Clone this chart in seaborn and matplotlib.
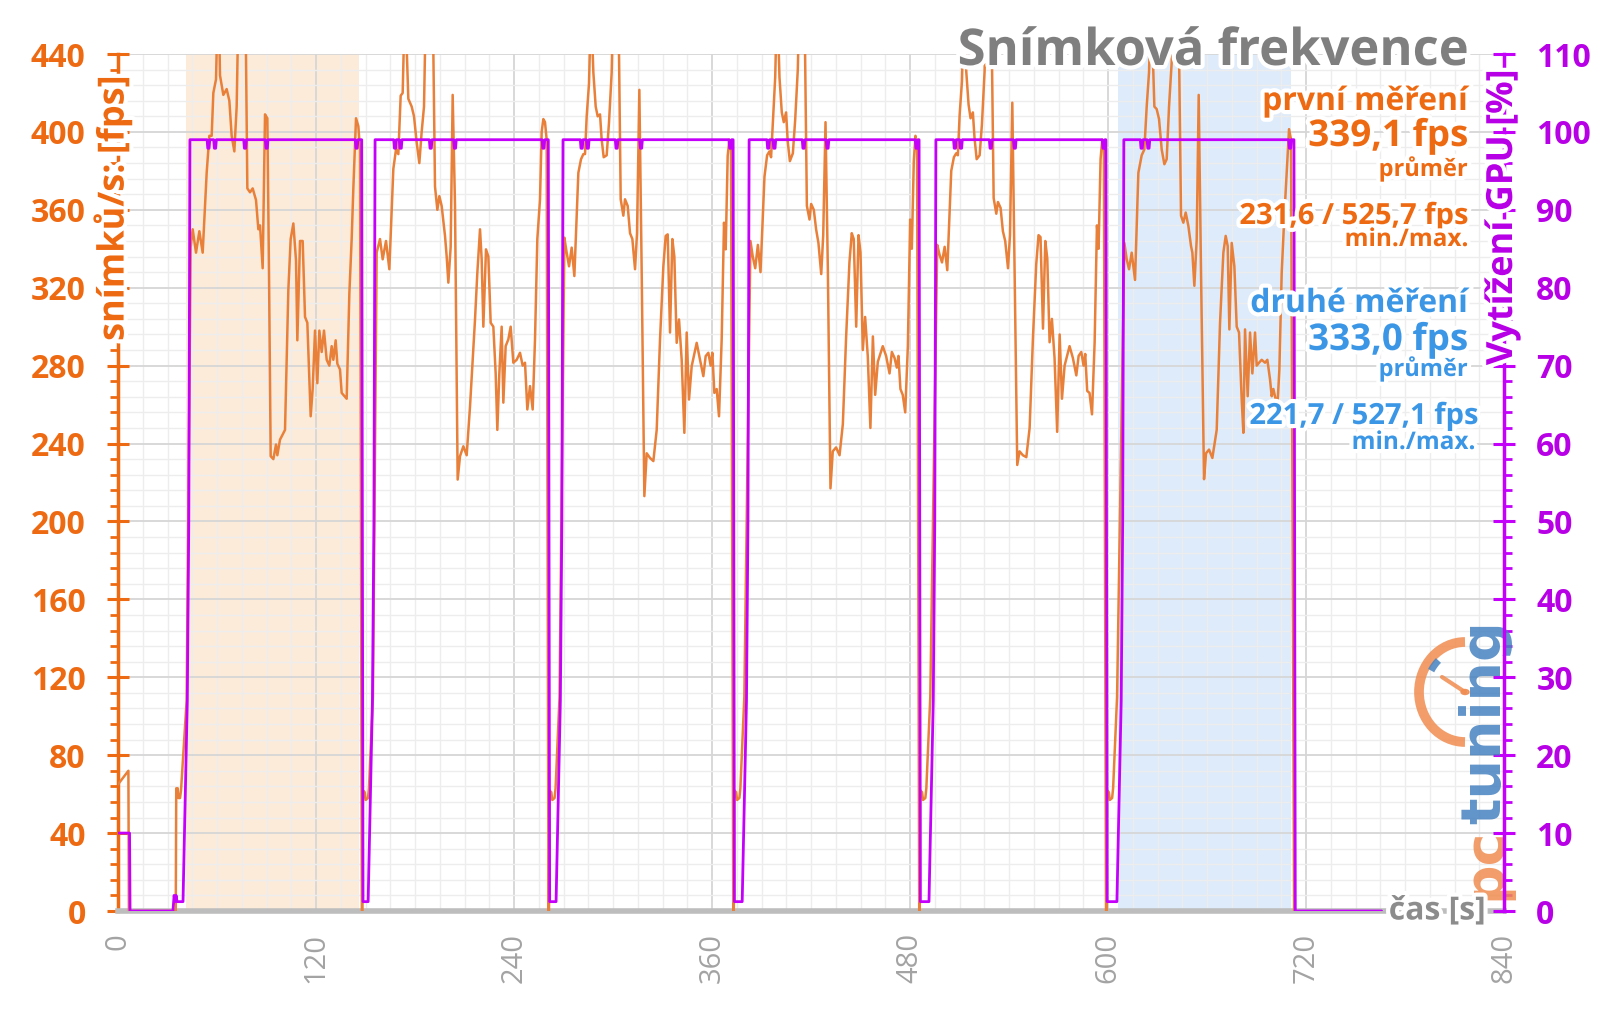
import matplotlib
matplotlib.use("Agg")
import matplotlib.pyplot as plt
import seaborn as sns
import pandas as pd
from matplotlib import patheffects as pe
from matplotlib.patches import Arc, Circle
from matplotlib.ticker import MultipleLocator

# ---------------------------------------------------------------- data
x_ticks = [0, 120, 240, 360, 480, 600, 720, 840]
fps_ticks = [0, 40, 80, 120, 160, 200, 240, 280, 320, 360, 400, 440]
gpu_ticks = [0, 10, 20, 30, 40, 50, 60, 70, 80, 90, 100, 110]

shade_first = (41.2, 146.2)
shade_second = (606.3, 710.8)

run_start = [43.6, 155.8, 269.7, 382.5, 495.7, 609.6]   # GPU reaches 99 %
run_end = [147.5, 260.6, 372.6, 485.3, 598.5, 712.5]     # fps falls to 0

run1_t = [44.05, 45.26, 47.28, 49.30, 51.32, 53.74, 55.36, 56.77, 57.78, 59.40,
          60.81, 61.82, 63.84, 65.86, 67.48, 68.89, 70.51, 71.92, 73.54, 75.56,
          77.2, 78.39, 80.0, 81.62, 83.64, 85.06, 86.07, 87.68, 89.10, 90.51,
          91.52, 92.53, 94.15, 95.76, 96.57, 98.19, 101.22, 103.24, 104.65, 106.27,
          107.88, 108.69, 110.31, 111.92, 113.34, 114.75, 116.77, 117.98, 119.40, 120.81,
          122.03, 123.44, 124.85, 126.47, 128.09, 129.50, 130.51, 131.92, 132.93, 134.55,
          135.56, 137.58, 138.59, 140.21, 141.62, 142.63, 144.25, 145.66, 146.67]
run1_fps = [341, 350, 338, 349, 338, 379, 398, 398, 420, 427,
            478, 429, 419, 422, 416, 398, 390, 413, 490, 525.7,
            470, 371, 369, 371, 365, 350, 352, 330, 409, 407,
            328, 233.5, 232, 239.5, 234, 242, 247, 319, 345, 353,
            334, 293, 344, 344, 305, 302, 254, 268, 298, 271,
            298, 287, 298, 283, 280, 290, 283, 293, 281, 278,
            266, 264, 263, 317, 345, 371, 407, 403, 391]

run2_t = [156.77, 158.79, 160.41, 162.43, 164.45, 166.87, 168.49, 169.90, 171.32, 172.53,
          173.94, 175.96, 177.98, 179.40, 181.01, 182.63, 184.04, 185.46, 186.67, 188.69,
          190.71, 192.12, 193.54, 194.75, 196.16, 198.19, 199.20, 200.21, 201.62, 202.83,
          204.25, 205.86, 207.28, 209.30, 211.32, 213.34, 216.37, 217.78, 219.40, 220.41,
          221.42, 223.03, 224.45, 225.86, 227.48, 228.89, 229.90, 231.11, 232.53, 233.54,
          234.95, 236.57, 237.98, 239.60, 241.62, 243.64, 245.26, 246.67, 248.08, 249.70,
          251.32, 252.73, 254.14, 255.76, 256.77, 257.78, 258.79, 259.80]
run2_fps = [338, 345, 334.6, 344, 329.5, 381, 391, 388.6, 418.6, 420,
            470, 417, 413, 408, 394.6, 384, 400, 413, 470, 515,
            470, 372, 360, 367, 362, 346.6, 336, 322.6, 341, 419,
            362, 221.5, 233.5, 238.6, 234, 259, 303.7, 327.7, 350, 334.6,
            300, 339.7, 336, 302, 300, 276, 247, 276, 300, 261,
            290, 293.5, 300, 281.5, 283, 286.6, 280, 281.5, 257.5, 269.5,
            257.5, 293.5, 345, 365.4, 400, 406.6, 405, 396]

run3_t = [270.52, 271.93, 273.35, 274.96, 276.58, 279.0, 280.62, 282.03, 283.04, 284.05,
          285.47, 286.68, 288.09, 289.51, 290.72, 292.13, 293.14, 294.36, 296.17, 297.59,
          299.20, 300.21, 301.63, 303.24, 304.66, 306.27, 307.28, 308.90, 310.32, 311.73,
          313.35, 314.56, 315.97, 317.39, 319.0, 320.42, 322.44, 324.46, 326.48, 328.50,
          330.52, 331.93, 333.14, 334.56, 335.97, 337.18, 338.60, 340.01, 341.63, 343.24,
          344.66, 346.07, 347.69, 350.72, 352.74, 354.76, 356.17, 357.79, 359.20, 360.21,
          361.43, 362.84, 364.25, 365.87, 367.28, 368.29, 369.51, 370.52, 371.53]
run3_fps = [345.7, 338, 331, 340.6, 326, 379, 386, 388.6, 388.6, 408,
            425, 465, 430.6, 413, 408, 409, 396, 387, 388, 405,
            430.6, 470, 505, 470, 365.4, 357, 365.4, 362, 348, 345,
            329.5, 348, 421.6, 327.7, 213, 235, 232.6, 231, 247, 293.5,
            331, 346.6, 347.4, 297, 345, 336, 291.7, 303.7, 283, 245.5,
            297, 262.6, 279.7, 291.7, 283, 274.6, 284.9, 286.6, 280, 286.6,
            266, 268, 254, 293.5, 353.4, 339.7, 387.7, 396, 393]

run4_t = [383.3, 384.7, 386.2, 387.8, 389.4, 391.8, 393.4, 394.8, 395.8, 396.9,
          398.3, 399.5, 400.9, 402.3, 403.5, 404.9, 405.9, 407.2, 409.0, 410.4,
          412.0, 413.0, 414.4, 416.0, 417.5, 419.1, 420.1, 421.7, 423.1, 424.5,
          426.2, 427.4, 428.8, 430.2, 431.8, 433.2, 435.2, 437.3, 439.3, 441.3,
          443.3, 444.7, 445.9, 447.4, 448.8, 450.0, 451.4, 452.8, 454.4, 456.0,
          457.5, 458.9, 460.5, 463.5, 465.5, 467.6, 469.0, 470.6, 472.0, 473.0,
          474.2, 475.6, 477.1, 478.7, 480.1, 481.1, 482.3, 483.3, 484.3]
run4_fps = [344, 336, 330, 342, 328, 377, 388, 390, 387, 405,
            428, 470, 428, 410, 405, 410, 395, 385, 389, 406,
            432, 470, 510, 470, 362, 355, 363, 360, 350, 343,
            327, 347, 405, 330, 217, 236, 238, 234, 250, 295,
            333, 348, 345, 300, 347, 338, 288, 305, 285, 248,
            295, 265, 282, 290, 285, 276, 287, 284, 279, 285,
            268, 265, 256, 290, 355, 340, 385, 398, 392]

run5_t = [496.5, 497.9, 499.4, 501.0, 502.6, 505.0, 506.6, 508.0, 509.0, 510.1,
          511.5, 512.7, 514.1, 515.5, 516.7, 518.1, 519.1, 520.4, 522.2, 523.6,
          525.2, 526.2, 527.6, 529.2, 530.7, 532.3, 533.3, 534.9, 536.3, 537.7,
          539.4, 540.6, 542.0, 543.4, 545.0, 546.4, 548.4, 550.5, 552.5, 554.5,
          556.5, 557.9, 559.1, 560.6, 562.0, 563.2, 564.6, 566.0, 567.6, 569.2,
          570.7, 572.1, 573.7, 576.7, 578.7, 580.8, 582.2, 583.8, 585.2, 586.2,
          587.4, 588.8, 590.3, 591.9, 593.3, 594.3, 595.5, 596.5, 597.5]
run5_fps = [342, 337, 333, 341, 329, 380, 387, 389, 388, 409,
            426, 468, 431, 414, 407, 410, 397, 386, 388, 404,
            431, 470, 508, 470, 366, 358, 364, 361, 349, 344,
            330, 347, 415, 328, 229, 236, 234, 233, 248, 294,
            332, 347, 346, 299, 344, 335, 292, 304, 284, 246,
            296, 263, 280, 290, 284, 275, 285, 287, 280, 286,
            267, 266, 255, 292, 352, 340, 386, 396, 393]

run6_t = [609.92, 611.33, 612.75, 614.36, 616.38, 618.40, 620.42, 622.04, 623.45, 624.87,
          626.08, 628.10, 629.51, 630.93, 632.54, 634.16, 635.57, 636.99, 638.60, 639.61,
          641.03, 642.64, 644.26, 645.67, 647.09, 648.71, 650.32, 651.13, 652.34, 653.76,
          654.97, 656.38, 658.20, 659.41, 661.23, 663.25, 665.88, 667.90, 669.92, 671.33,
          672.54, 673.55, 674.97, 676.58, 678.0, 679.41, 681.03, 682.04, 683.05, 684.66,
          686.08, 687.49, 689.11, 690.12, 691.53, 693.15, 695.17, 696.58, 698.20, 699.21,
          700.22, 701.63, 702.85, 703.86, 705.27, 706.89, 708.30, 709.72, 710.93]
run6_fps = [343, 334.6, 329.5, 338, 324, 379, 388, 391, 413, 430.6,
            470, 413, 411.7, 406.6, 391, 383.4, 386, 413, 435.7, 470,
            527.1, 470, 357, 353.4, 358.6, 351.7, 341.4, 338, 321, 345,
            419, 327.7, 221.7, 235, 236.9, 232.6, 247, 302, 338, 346.6,
            341.4, 298.6, 343, 331, 300, 297, 262.6, 245.5, 298.6, 264.3,
            297, 276, 297, 280, 281.5, 283, 281.5, 283, 272.9, 264.3,
            268, 262.6, 262, 278, 327.7, 357, 379, 401.4, 396]

# fps before the first run, in the loading gaps and after the last run
pre_t = [0.0, 6.3, 6.6, 35.0, 35.3, 36.2, 36.6, 37.6, 38.2, 41.6]
pre_fps = [65, 72, 0, 0, 63, 63, 58, 58, 62, 108]
gap_off = [0.3, 0.6, 0.9, 2.0, 2.6, 4.0, 4.6, 7.0]
gap_fps = [0, 0, 62, 61, 57, 58, 63, 110]
last_off = [0.3, 1.0]
last_fps = [0, 0]

# GPU utilisation (%)
gpu_pre_t = [0.0, 7.0, 7.3, 33.3, 34.0, 34.6, 35.2, 35.8, 38.6]
gpu_pre = [10, 10, 0, 0, 2.0, 1.2, 2.0, 1.2, 1.2]
gpu_rise_off = [-4.2, -1.6, -0.7, 0.0]
gpu_rise = [1.2, 27, 50, 99]
gpu_dips = [[11.2, 15.2, 33.4, 46.5, 101.0],
            [12.1, 15.5, 33.7, 48.4, 102.0],
            [11.3, 15.0, 32.5, 47.3, 101.4],
            [11.6, 15.3, 33.0, 47.5, 101.5],
            [11.5, 15.2, 33.2, 47.8, 101.6],
            [10.8, 14.9, 100.7]]
dip_off = [-0.8, -0.4, 0.4, 0.8]
dip_val = [99, 97.9, 97.9, 99]
gpu_drop_off = [0.2, 1.0]
gpu_drop = [99, 1.2]
gpu_last_off = [0.2, 1.0, 53.3]
gpu_last = [99, 0, 0]

# ---------------------------------------------------------------- tables
runs_t = [run1_t, run2_t, run3_t, run4_t, run5_t, run6_t]
runs_fps = [run1_fps, run2_fps, run3_fps, run4_fps, run5_fps, run6_fps]

fps_t, fps_v = list(pre_t), list(pre_fps)
for i, (rt, rf) in enumerate(zip(runs_t, runs_fps)):
    fps_t += rt
    fps_v += rf
    offs, vals = (gap_off, gap_fps) if i < 5 else (last_off, last_fps)
    fps_t += [run_end[i] + o for o in offs]
    fps_v += vals
fps_df = pd.DataFrame({"t": fps_t, "fps": fps_v})

gpu_t, gpu_v = list(gpu_pre_t), list(gpu_pre)
for i in range(6):
    t0, e = run_start[i], run_end[i]
    gpu_t += [t0 + o for o in gpu_rise_off]
    gpu_v += gpu_rise
    for d in gpu_dips[i]:
        gpu_t += [t0 + d + o for o in dip_off]
        gpu_v += dip_val
    offs, vals = (gpu_drop_off, gpu_drop) if i < 5 else (gpu_last_off, gpu_last)
    gpu_t += [e + o for o in offs]
    gpu_v += vals
gpu_df = pd.DataFrame({"t": gpu_t, "gpu": gpu_v})

# ---------------------------------------------------------------- style
sns.set_theme(style="white")
plt.rcParams["font.family"] = ["Open Sans", "DejaVu Sans"]

ORANGE_TXT = "#EE6A12"
ORANGE_LINE = "#E8803A"
PURPLE = "#C400FA"
PURPLE_TXT = "#B800E6"
BLUE = "#3B97E6"
GREY = "#7F7F7F"

W, H = 1600, 1010
def P(x, y):
    return (x / W, 1 - y / H)

fig = plt.figure(figsize=(16, 10.1), dpi=100)
fig.patch.set_facecolor("white")
ax = fig.add_axes([118 / W, 1 - 911 / H, (1504 - 118) / W, (911 - 54) / H])
ax2 = ax.twinx()

ax.axvspan(*shade_first, color="#FDEBDA", zorder=0.2, lw=0)
ax.axvspan(*shade_second, color="#DDEBFA", zorder=0.2, lw=0)

sns.lineplot(data=fps_df, x="t", y="fps", ax=ax, color=ORANGE_LINE, lw=1.8,
             sort=False, estimator=None, zorder=3)
sns.lineplot(data=gpu_df, x="t", y="gpu", ax=ax2, color=PURPLE, lw=2.0,
             sort=False, estimator=None, zorder=3)

ax.set_xlim(x_ticks[0], x_ticks[-1])
ax.set_ylim(fps_ticks[0], fps_ticks[-1])
ax2.set_ylim(gpu_ticks[0], gpu_ticks[-1])
ax.set_xlabel("")
ax.set_ylabel("")
ax2.set_ylabel("")

ax.set_xticks(x_ticks)
ax.xaxis.set_minor_locator(MultipleLocator(15))
ax.set_yticks(fps_ticks)
ax.yaxis.set_minor_locator(MultipleLocator(8))
ax2.set_yticks(gpu_ticks)
ax2.yaxis.set_minor_locator(MultipleLocator(2))

ax.set_axisbelow(True)
ax.grid(which="major", color="#D6D6D6", lw=1.3)
ax.grid(which="minor", color="#EDEDED", lw=1.0)
ax2.grid(False)

for s in ["top", "right"]:
    ax.spines[s].set_visible(False)
for s in ["top", "left", "bottom"]:
    ax2.spines[s].set_visible(False)
ax.spines["left"].set_color(ORANGE_TXT)
ax.spines["left"].set_linewidth(2.5)
ax.spines["bottom"].set_color("#BDBDBD")
ax.spines["bottom"].set_linewidth(4)
ax2.spines["right"].set_color(PURPLE)
ax2.spines["right"].set_linewidth(2.5)

ax.tick_params(axis="x", which="major", direction="out", length=7, width=3,
               color="#BDBDBD", labelcolor="#A3A3A3", labelsize=21,
               labelrotation=90, pad=9)
ax.tick_params(axis="x", which="minor", length=0)
ax.tick_params(axis="y", which="major", direction="inout", length=16.5, width=2.2,
               color=ORANGE_TXT, labelcolor=ORANGE_TXT, labelsize=23, pad=15)
ax.tick_params(axis="y", which="minor", direction="out", length=5.5, width=2,
               color=ORANGE_TXT)
ax2.tick_params(axis="y", which="major", direction="inout", length=16.5, width=2.2,
                color=PURPLE, labelcolor=PURPLE_TXT, labelsize=23, pad=15)
ax2.tick_params(axis="y", which="minor", direction="out", length=5.5, width=2,
                color=PURPLE)
for lab in ax.get_yticklabels() + ax2.get_yticklabels():
    lab.set_fontweight("bold")

halo = [pe.withStroke(linewidth=6, foreground="white")]

# axis titles
fig.text(*P(113, 208), "snímků/s: [fps]", rotation=90, ha="center", va="center",
         fontsize=26, fontweight="bold", color=ORANGE_TXT, path_effects=halo, zorder=10)
fig.text(*P(1503, 217), "Vytížení GPU [%]", rotation=90, ha="center", va="center",
         fontsize=26, fontweight="bold", color=PURPLE_TXT, path_effects=halo, zorder=10)
fig.text(*P(1486, 911), "čas [s]", ha="right", va="center",
         fontsize=23, fontweight="bold", color="#8C8C8C", path_effects=halo, zorder=10)

# title and summary
fig.text(*P(1469, 65), "Snímková frekvence", ha="right", va="baseline",
         fontsize=36.5, fontweight="bold", color=GREY, path_effects=halo, zorder=10)
summary = [
    ("první měření", 1468, 110, 23, ORANGE_TXT),
    ("339,1 fps", 1468, 146, 26.5, ORANGE_TXT),
    ("průměr", 1468, 176, 17, ORANGE_TXT),
    ("231,6 / 525,7 fps", 1468, 224, 21, ORANGE_TXT),
    ("min./max.", 1468, 246, 17.5, ORANGE_TXT),
    ("druhé měření", 1468, 312, 23, BLUE),
    ("333,0 fps", 1468, 350, 26.5, BLUE),
    ("průměr", 1468, 376, 17, BLUE),
    ("221,7 / 527,1 fps", 1478, 424, 21, BLUE),
    ("min./max.", 1475, 449, 17.5, BLUE),
]
for txt, x, y, fs, col in summary:
    fig.text(*P(x, y), txt, ha="right", va="baseline", fontsize=fs,
             fontweight="bold", color=col, path_effects=halo, zorder=10)

# pctuning watermark logo
logo_o, logo_b = "#F08C50", "#4682C0"
ax2.text(*P(1485, 900), "pc", transform=fig.transFigure, rotation=90, ha="center",
         va="bottom", fontsize=40, fontweight="bold", color=logo_o, alpha=0.85,
         family="DejaVu Sans", zorder=1, clip_on=False)
ax2.text(*P(1485, 824), "tuning", transform=fig.transFigure, rotation=90, ha="center",
         va="bottom", fontsize=40, fontweight="bold", color=logo_b, alpha=0.85,
         family="DejaVu Sans", zorder=1, clip_on=False)
c = P(1465, 692)
ax2.add_patch(Arc(c, 92 / W, 100 / H, theta1=90, theta2=270, transform=fig.transFigure,
                  color=logo_o, lw=7, alpha=0.85, zorder=1, clip_on=False))
ax2.add_patch(Arc(c, 78 / W, 86 / H, theta1=118, theta2=135, transform=fig.transFigure,
                  color=logo_b, lw=5, alpha=0.85, zorder=1, clip_on=False))
n0, n1 = P(1442, 677), P(1465, 692)
ax2.plot([n0[0], n1[0]], [n0[1], n1[1]], transform=fig.transFigure, color=logo_o,
         lw=3, alpha=0.85, zorder=1, clip_on=False)
ax2.add_patch(Circle(c, 4 / W, transform=fig.transFigure, color=logo_o, alpha=0.85,
                     zorder=1, clip_on=False))

fig.savefig("out.png", dpi=100, facecolor="white")
